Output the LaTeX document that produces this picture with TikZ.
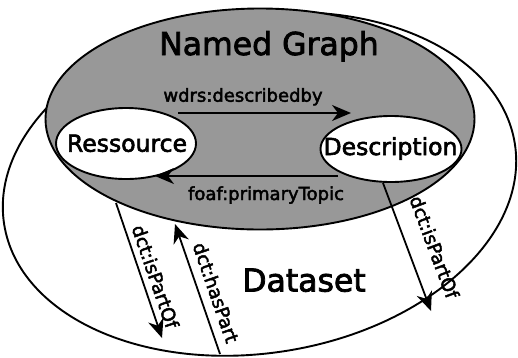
\documentclass[tikz,border=0pt]{standalone}
\usepackage{fontspec}
\setmainfont[FakeBold=2.5]{DejaVu Sans}
\usetikzlibrary{shapes.geometric,arrows.meta}
\definecolor{nggray}{RGB}{152,152,152}
\begin{document}
\begin{tikzpicture}[x=1pt,y=-1pt,
  bubble/.style={ellipse, draw, line width=1.9pt, inner sep=0pt, outer sep=0pt, fill=white},
  arr/.style={line width=1.8pt, -{Stealth[length=19pt,width=16pt,inset=6pt]}},
  lbl/.style={inner sep=0pt, font=\fontsize{18}{20}\selectfont},
  rlbl/.style={inner sep=0pt, font=\fontsize{18.5}{20}\selectfont},
  big/.style={inner sep=0pt, anchor=base, font=\fontsize{31.5}{36}\selectfont},
  mid/.style={inner sep=0pt, anchor=base, font=\fontsize{23.5}{26}\selectfont}]
\useasboundingbox (0,0) rectangle (518,357);
% Dataset (outer) ellipse
\node[bubble, minimum width=517pt, minimum height=338pt, rotate=9] (ds) at (259.5,184) {};
% Named Graph ellipse
\node[bubble, fill=nggray, minimum width=429pt, minimum height=221pt] (ng) at (260,119) {};
% inner ellipses
\node[bubble, minimum width=140pt, minimum height=71pt] (res) at (126,143.5) {};
\node[bubble, minimum width=141pt, minimum height=66pt] (desc) at (391,149) {};
% texts
\node[big] (tng) at (269,55) {Named Graph};
\node[big] (tds) at (304,291.5) {Dataset};
\node[mid] (tres) at (127,151.7) {Ressource};
\node[mid] (tdesc) at (390.5,155) {Description};
% horizontal arrows
\coordinate (w1) at (178,113);
\coordinate (w2) at (351,113);
\draw[arr] (w1) -- (w2);
\node[lbl, anchor=base] (lw) at (243,101.7) {wdrs:describedby};
\coordinate (f1) at (338,176);
\coordinate (f2) at (155,176);
\draw[arr] (f1) -- (f2);
\node[lbl, anchor=base] (lf) at (266,200) {foaf:primaryTopic};
% slanted arrows
\coordinate (p1) at (116,203);
\coordinate (p2) at (162,338);
\draw[arr] (p1) -- (p2);
\node[rlbl, rotate=-71] (lp) at (155.5,276.5) {dct:isPartOf};
\coordinate (h1) at (220,354);
\coordinate (h2) at (175,224);
\draw[arr] (h1) -- (h2);
\node[rlbl, rotate=-71] (lh) at (216,292.5) {dct:hasPart};
\coordinate (q1) at (383,183);
\coordinate (q2) at (431,311);
\draw[arr] (q1) -- (q2);
\node[rlbl, rotate=-69.5] (lq) at (434.5,247) {dct:isPartOf};
\end{tikzpicture}
\end{document}
